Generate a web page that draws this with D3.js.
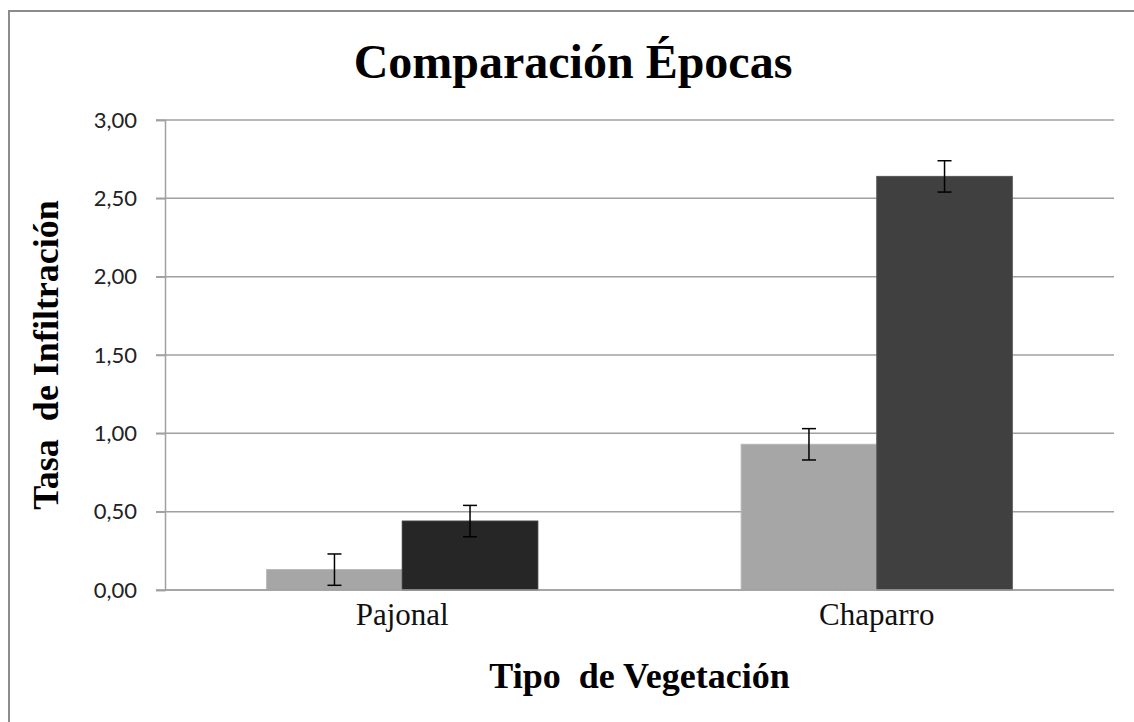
<!DOCTYPE html>
<html>
<head>
<meta charset="utf-8">
<script src="https://cdn.jsdelivr.net/npm/d3@7"></script>
<style>
  html, body { margin: 0; background: #fff; overflow: hidden; }
  svg { display: block; }
  .serif { font-family: 'Liberation Serif', 'Times New Roman', serif; white-space: pre; }
</style>
</head>
<body>
<div id="chart"></div>
<script>
const width = 1134;
const height = 722;

// Data
const categories = ["Pajonal", "Chaparro"];
const seriesKeys = ["epoca1", "epoca2"];
const epoca1 = [0.13, 0.93];
const epoca2 = [0.44, 2.64];
const error1 = [0.10, 0.10];
const error2 = [0.10, 0.10];
const yTicks = [0, 0.5, 1, 1.5, 2, 2.5, 3];

// Fill per bar (series x category), as in the original
const fills = {
  epoca1: ["#a6a6a6", "#a6a6a6"],
  epoca2: ["#262626", "#404040"]
};
const strokes = {
  epoca1: ["#b4b4b4", "#b4b4b4"],
  epoca2: ["#333333", "#555555"]
};

const margin = {top: 120, right: 20, bottom: 132, left: 165};

const svg = d3.select("#chart")
    .append("svg")
    .attr("width", width)
    .attr("height", height);

// Chart frame: only top and left edges are inside the picture
svg.append("path")
    .attr("d", `M9,${height} V11 H${width}`)
    .attr("fill", "none")
    .attr("stroke", "#8c8c8c")
    .attr("stroke-width", 2);

const x0 = d3.scaleBand()
    .domain(categories)
    .range([margin.left, width - margin.right])
    .padding(0);

const x1 = d3.scaleBand()
    .domain(seriesKeys)
    .range([0, x0.bandwidth()])
    .paddingInner(0)
    .paddingOuter(0.75);

const y = d3.scaleLinear()
    .domain([0, 3])
    .range([height - margin.bottom, margin.top]);

// Gridlines
svg.append("g")
    .selectAll("line")
    .data(yTicks)
    .join("line")
    .attr("x1", margin.left - 9)
    .attr("x2", width - margin.right)
    .attr("y1", d => y(d))
    .attr("y2", d => y(d))
    .attr("stroke", "#a0a0a0")
    .attr("stroke-width", 1.5);

// Y axis
const yAxis = svg.append("g")
    .attr("transform", `translate(${margin.left},0)`)
    .call(d3.axisLeft(y)
        .tickValues(yTicks)
        .tickSize(9)
        .tickPadding(19)
        .tickFormat(d => d3.format(".2f")(d).replace(".", ",")));

yAxis.select(".domain")
    .attr("stroke", "#a0a0a0")
    .attr("stroke-width", 1.5);
yAxis.selectAll(".tick line")
    .attr("stroke", "#a0a0a0")
    .attr("stroke-width", 1.5);
yAxis.selectAll(".tick text")
    .attr("fill", "#222")
    .style("font-family", "Lato, 'Liberation Sans', sans-serif")
    .style("font-size", "22px");

// Bars
const rows = categories.map((c, i) => ({
  cat: c,
  values: [
    {key: "epoca1", value: epoca1[i], err: error1[i], idx: i},
    {key: "epoca2", value: epoca2[i], err: error2[i], idx: i}
  ]
}));

const groups = svg.append("g")
    .selectAll("g")
    .data(rows)
    .join("g")
    .attr("transform", d => `translate(${x0(d.cat)},0)`);

groups.selectAll("rect")
    .data(d => d.values)
    .join("rect")
    .attr("x", d => x1(d.key))
    .attr("y", d => y(d.value))
    .attr("width", x1.bandwidth())
    .attr("height", d => y(0) - y(d.value))
    .attr("fill", d => fills[d.key][d.idx])
    .attr("stroke", d => strokes[d.key][d.idx])
    .attr("stroke-width", 1);

// Error bars
const errG = groups.selectAll("g.err")
    .data(d => d.values)
    .join("g")
    .attr("class", "err")
    .attr("transform", d => `translate(${x1(d.key) + x1.bandwidth() / 2},0)`);

errG.append("line")
    .attr("y1", d => y(d.value - d.err))
    .attr("y2", d => y(d.value + d.err))
    .attr("stroke", "#000")
    .attr("stroke-width", 1.5);

errG.selectAll("line.cap")
    .data(d => [d.value - d.err, d.value + d.err])
    .join("line")
    .attr("class", "cap")
    .attr("x1", -7)
    .attr("x2", 7)
    .attr("y1", d => y(d))
    .attr("y2", d => y(d))
    .attr("stroke", "#000")
    .attr("stroke-width", 1.5);

// Baseline
svg.append("line")
    .attr("x1", margin.left)
    .attr("x2", width - margin.right)
    .attr("y1", y(0))
    .attr("y2", y(0))
    .attr("stroke", "#a0a0a0")
    .attr("stroke-width", 1.5);

// Category labels
svg.append("g")
    .selectAll("text")
    .data(categories)
    .join("text")
    .attr("class", "serif")
    .attr("x", d => x0(d) + x0.bandwidth() / 2)
    .attr("y", y(0) + 35)
    .attr("text-anchor", "middle")
    .style("font-size", "31px")
    .attr("fill", "#111")
    .text(d => d);

// Title
svg.append("text")
    .attr("class", "serif")
    .attr("x", 573)
    .attr("y", 78)
    .attr("text-anchor", "middle")
    .style("font-size", "48px")
    .style("font-weight", "bold")
    .text("Comparación Épocas");

// Axis titles
svg.append("text")
    .attr("class", "serif")
    .attr("x", (margin.left + width - margin.right) / 2)
    .attr("y", 688)
    .attr("text-anchor", "middle")
    .style("font-size", "36px")
    .style("font-weight", "bold")
    .text("Tipo  de Vegetación");

svg.append("text")
    .attr("class", "serif")
    .attr("transform", `translate(58,${(y(0) + y(3)) / 2}) rotate(-90)`)
    .attr("text-anchor", "middle")
    .style("font-size", "36px")
    .style("font-weight", "bold")
    .text("Tasa  de Infiltración");
</script>
</body>
</html>
